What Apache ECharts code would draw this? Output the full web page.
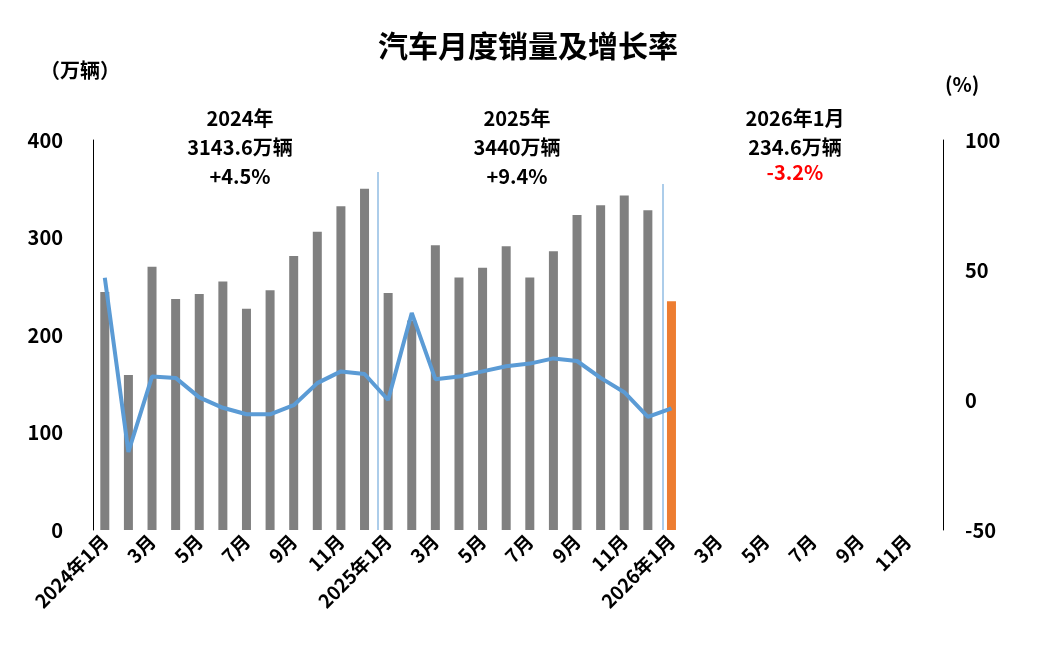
<!DOCTYPE html>
<html><head><meta charset="utf-8">
<script src="https://cdn.jsdelivr.net/npm/echarts@6/dist/echarts.min.js"></script>
<style>body{margin:0}#c{width:1056px;height:670px}</style></head>
<body><div id="c"></div>
<script>
const categories = [];
['2024','2025','2026'].forEach(y=>{for(let m=1;m<=12;m++)categories.push(m===1?y+'年1月':m+'月');});
const sales = [244,159,270,237,242,255,227,246,281,306,332,350,
               243,215,292,259,269,291,259,286,323,333,343,328,
               234.6];
const growth = [47,-20,9,8.5,1,-3,-5.5,-5.5,-2,6.5,11,10,
                0,33.5,8,9,11,13,14,16,15,8.5,3,-6.5,
                -3.2];
const leftTicks = [0,100,200,300,400];
const rightTicks = [-50,0,50,100];
const F = "'Noto Sans CJK SC', sans-serif";
const chart = echarts.init(document.getElementById('c'));
const B = 'bold 20px '+F;
chart.setOption({
  animation:false,
  title:{text:'汽车月度销量及增长率',left:'center',top:26,textStyle:{fontFamily:F,fontSize:30,fontWeight:'bold',color:'#000'}},
  grid:{left:93,right:113,top:140,bottom:140},
  xAxis:{type:'category',data:categories,axisTick:{show:false},axisLine:{show:false},
    axisLabel:{interval:1,rotate:45,fontFamily:F,fontSize:19,fontWeight:'bold',color:'#000'}},
  yAxis:[{type:'value',min:leftTicks[0],max:leftTicks[4],interval:100,splitLine:{show:false},
      axisLine:{show:true,lineStyle:{color:'#000'}},axisLabel:{fontFamily:F,fontSize:20,fontWeight:'bold',color:'#000',margin:30}},
    {type:'value',min:rightTicks[0],max:rightTicks[3],interval:50,splitLine:{show:false},
      axisLine:{show:true,lineStyle:{color:'#000'}},axisLabel:{fontFamily:F,fontSize:20,fontWeight:'bold',color:'#000',margin:22}}],
  graphic:[
    {type:'text',x:40,y:60,style:{text:'（万辆）',fill:'#000',font:B}},
    {type:'text',x:945,y:74,style:{text:'(%)',fill:'#000',font:B}},
    {type:'text',x:240,y:104,style:{text:'2024年\n3143.6万辆\n+4.5%',fill:'#000',font:B,align:'center',lineHeight:29}},
    {type:'text',x:517,y:104,style:{text:'2025年\n3440万辆\n+9.4%',fill:'#000',font:B,align:'center',lineHeight:29}},
    {type:'text',x:795,y:104,style:{text:'2026年1月\n234.6万辆',fill:'#000',font:B,align:'center',lineHeight:29}},
    {type:'text',x:795,y:162,style:{text:'-3.2%',fill:'#FF0000',font:B,align:'center'}},
    {type:'line',shape:{x1:378,y1:172,x2:378,y2:530},style:{stroke:'#5B9BD5',lineWidth:1}},
    {type:'line',shape:{x1:663,y1:184,x2:663,y2:530},style:{stroke:'#5B9BD5',lineWidth:1}}
  ],
  series:[
    {type:'bar',data:sales.map((v,i)=>({value:v,itemStyle:{color:i===24?'#ED7D31':'#808080'}})),barWidth:9},
    {type:'line',yAxisIndex:1,data:growth,symbol:'none',lineStyle:{color:'#5B9BD5',width:4}}
  ]
});
</script></body></html>
